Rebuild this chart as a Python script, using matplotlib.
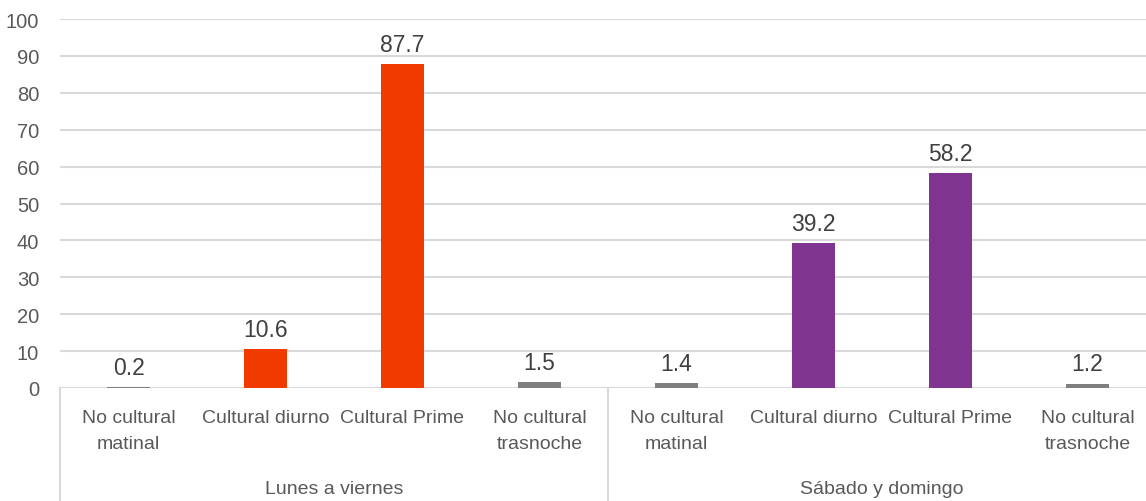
import matplotlib
matplotlib.use("Agg")
import matplotlib.pyplot as plt

plt.rcParams['font.family'] = ['Liberation Sans', 'DejaVu Sans']

categories = ["No cultural\nmatinal", "Cultural diurno", "Cultural Prime", "No cultural\ntrasnoche",
              "No cultural\nmatinal", "Cultural diurno", "Cultural Prime", "No cultural\ntrasnoche"]
groups = ["Lunes a viernes", "Sábado y domingo"]
values = [0.2, 10.6, 87.7, 1.5, 1.4, 39.2, 58.2, 1.2]
colors = ["#7F7F7F", "#F03A00", "#F03A00", "#7F7F7F",
          "#7F7F7F", "#7F3590", "#7F3590", "#7F7F7F"]
yticks = list(range(0, 101, 10))

W, H = 1146, 502
fig = plt.figure(figsize=(W / 100, H / 100), dpi=100)
left, right, top, bottom = 60, 1146, 20, 389
ax = fig.add_axes([left / W, 1 - bottom / H, (right - left) / W, (bottom - top) / H])

slot = 137.0
x = list(range(len(values)))
ax.bar(x, values, width=0.315, color=colors, zorder=3)
ax.set_xlim(-0.5, -0.5 + (right - left) / slot)
ax.set_ylim(0, 100)
ax.set_yticks(yticks)
ax.set_yticklabels([str(t) for t in yticks], fontsize=14.5, color="#595959")
ax.tick_params(axis='y', length=0, pad=15)
ax.set_xticks([])
ax.grid(axis='y', color="#D9D9D9", linewidth=1.5, zorder=0)
for s in ax.spines.values():
    s.set_visible(False)
ax.axhline(0, color="#D9D9D9", linewidth=1.5, zorder=2)

for xi, v in zip(x, values):
    ax.annotate(f"{v:.1f}", (xi, v), xytext=(0, 6), textcoords="offset points",
                ha="center", va="bottom", fontsize=16.5, color="#404040")

trans = ax.get_xaxis_transform()
for xi, c in zip(x, categories):
    ax.text(xi, -0.058, c, transform=trans, ha="center", va="top", fontsize=14,
            color="#595959", linespacing=1.65)

for gi, g in enumerate(groups):
    ax.text(gi * 4 + 1.5, -0.25, g, transform=trans, ha="center", va="top",
            fontsize=14, color="#595959")

for xs in [-0.5, 3.5]:
    ax.plot([xs, xs], [0, -0.31], transform=trans, color="#D9D9D9", linewidth=1.5,
            clip_on=False)

fig.savefig("out.png", dpi=100)
